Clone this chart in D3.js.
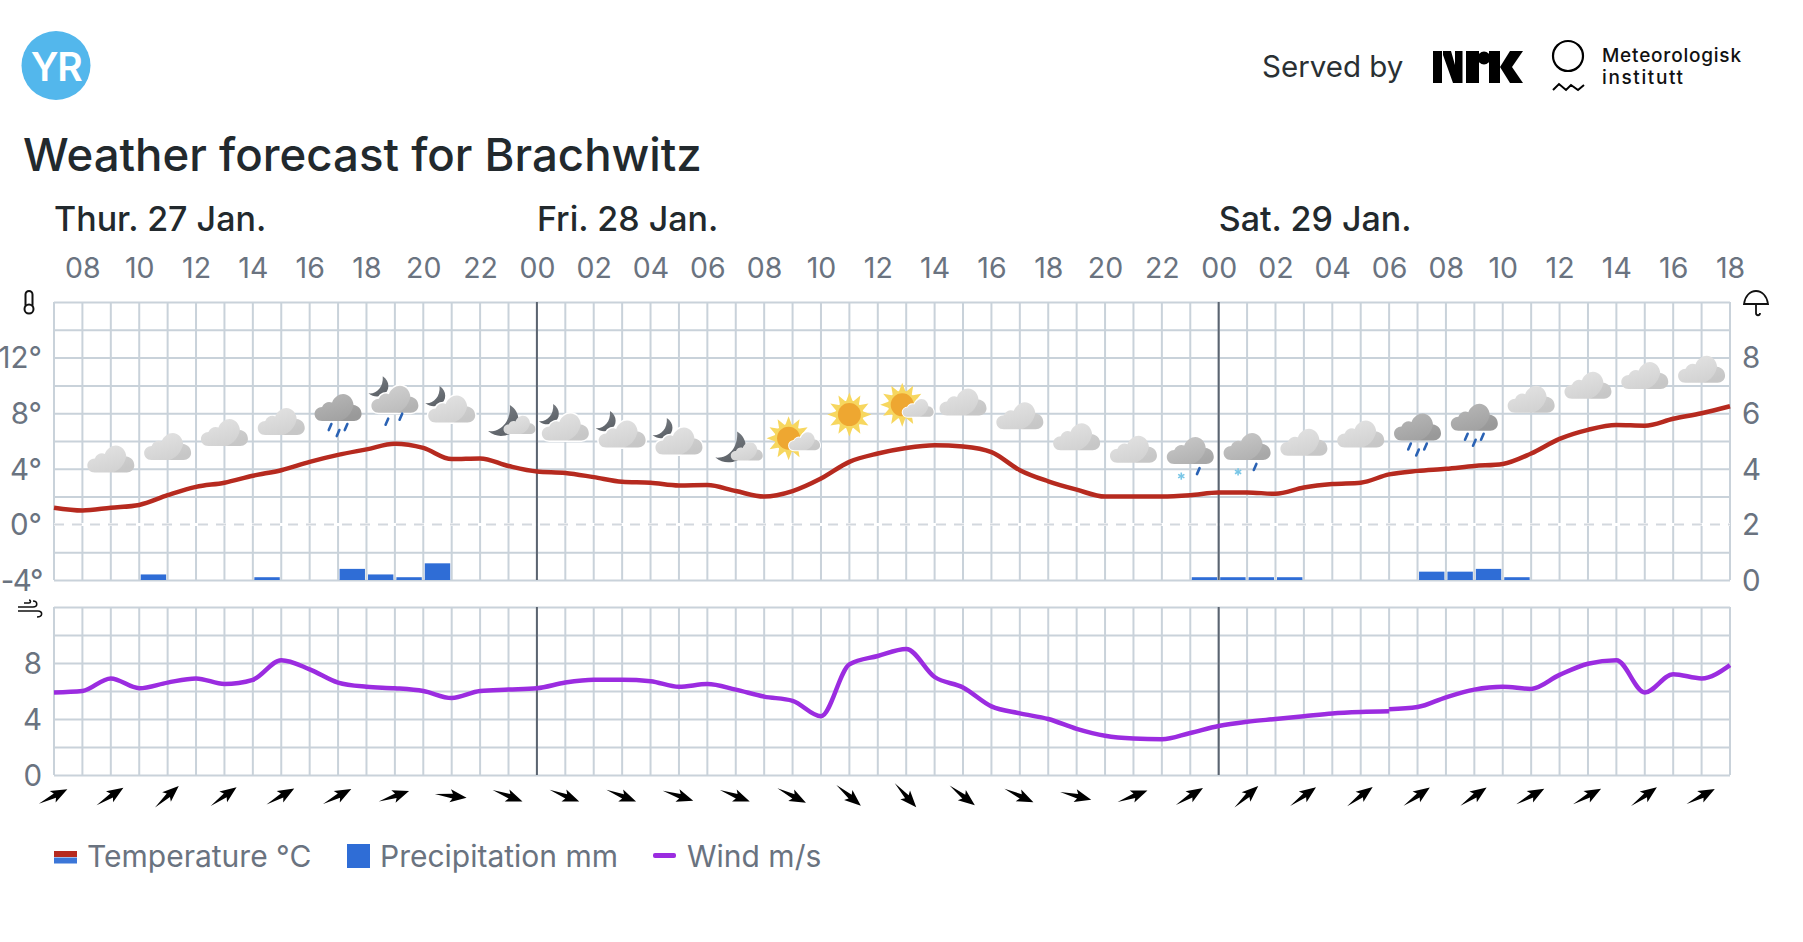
<!DOCTYPE html>
<html>
<head>
<meta charset="utf-8">
<title>Weather forecast for Brachwitz</title>
<script src="https://cdn.jsdelivr.net/npm/d3@7"></script>
<style>
body{margin:0;background:#fff;font-family:Inter,"Noto Sans",sans-serif;}
text{font-family:Inter,"Noto Sans",sans-serif;}
</style>
</head>
<body>
<svg id="chart" width="1803" height="942"></svg>
<script>
// values, one entry per hour from Thu 07:00 to Sat 18:00
var days = ["Thur. 27 Jan.","Fri. 28 Jan.","Sat. 29 Jan."];
var dayStarts = [0,17,41];
var midnights = [17,41];
var hourLabels = ["08","10","12","14","16","18","20","22","00","02","04","06","08","10","12","14","16","18","20","22","00","02","04","06","08","10","12","14","16","18"];
var temperature = [1.2,1.0,1.2,1.4,2.1,2.7,3.0,3.5,3.9,4.5,5.0,5.4,5.8,5.5,4.7,4.75,4.2,3.8,3.7,3.4,3.07,3.0,2.8,2.83,2.4,2.0,2.4,3.3,4.5,5.1,5.5,5.7,5.6,5.2,3.9,3.1,2.5,2.0,2.0,2.0,2.1,2.3,2.3,2.2,2.65,2.9,3.0,3.6,3.85,4.0,4.2,4.35,5.1,6.15,6.8,7.15,7.1,7.6,8.0,8.5];
var precipitation = [0,0,0,0.2,0,0,0,0.1,0,0,0.4,0.2,0.1,0.6,0,0,0,0,0,0,0,0,0,0,0,0,0,0,0,0,0,0,0,0,0,0,0,0,0,0,0.1,0.1,0.1,0.1,0,0,0,0,0.3,0.3,0.4,0.1,0,0,0,0,0,0,0];
var windEarly = [5.9,6.0,6.9,6.2,6.6,6.9,6.5,6.8,8.2,7.55,6.6,6.3,6.2,6.0,5.5,6.0,6.1,6.2,6.6,6.8,6.8,6.7,6.3,6.5,6.1,5.6,5.3,4.2,7.9,8.5,9.0,7.0,6.25,4.9,4.4,4.0,3.3,2.8,2.6,2.55,3.0,3.5,3.8,4.0,4.2,4.4,4.5,4.55];
var windLate = [4.7,4.85,5.55,6.1,6.3,6.15,7.15,7.95,8.2,5.9,7.2,6.9,7.85];
// every second hour starting at index 0, heading in degrees
var windHeading = [63,57,48,54,60,62,71,97,111,112,112,108,111,117,130,138,128,115,104,69,58,48,54,53,55,55,61,61,54,62];
// icons sit every second hour starting at index 2, level is where they sit on the temperature scale
var iconKinds = ["cloud","cloud","cloud","cloud","rain","moonRain","moon","moonSmall","moon","moon","moon","moonSmall","sunSmall","sun","sunSmall","cloud","cloud","cloud","cloud","sleet","sleet","cloud","cloud","rain","rain","cloud","cloud","cloud","cloud"];
var iconLevels = [4.6,5.5,6.5,7.3,8.3,8.9,8.2,7.3,6.9,6.4,5.9,5.4,6.2,7.9,8.6,8.7,7.7,6.2,5.3,5.2,5.5,5.8,6.4,6.9,7.6,8.9,9.9,10.6,11.05];
var legendLabels = ["Temperature °C","Precipitation mm","Wind m/s"];

var gridColor = "#c9d2da", labelColor = "#6a7380", darkText = "#22292d";
var left = 54, right = 1730;

var svg = d3.select("#chart");
var x = d3.scaleLinear().domain([0,59]).range([left,right]);
var yTemp = d3.scaleLinear().domain([-4,16]).range([580,302]);
var yRain = d3.scaleLinear().domain([0,10]).range([580,302]);
var yWind = d3.scaleLinear().domain([0,12]).range([775,607]);

var defs = svg.append("defs");
function cloudGradient(id,top,bottom){
	var g = defs.append("linearGradient").attr("id",id).attr("x1",0).attr("y1",0).attr("x2",0.5).attr("y2",1);
	g.append("stop").attr("offset","0%").attr("stop-color",top);
	g.append("stop").attr("offset","100%").attr("stop-color",bottom);
}
cloudGradient("cloudLight","#e4e4e4","#d2d2d2");
cloudGradient("cloudMid","#d2d2d2","#bdbdbd");
cloudGradient("cloudSleet","#c9c9c9","#b2b2b2");
cloudGradient("cloudDark","#b8b8b8","#a2a2a2");
cloudGradient("moonFill","#7d8288","#5d6268");

// header
svg.append("ellipse").attr("cx",56).attr("cy",65.5).attr("rx",34.5).attr("ry",34.5).attr("fill","#53b7ec");
svg.append("text").attr("x",56).attr("y",81).attr("text-anchor","middle").attr("font-size",39).attr("font-weight",600).attr("fill","#fff").attr("letter-spacing",-1.5).text("YR");
svg.append("text").attr("x",23).attr("y",171).attr("font-size",45.6).attr("font-weight",500).attr("fill",darkText).text("Weather forecast for Brachwitz");
svg.append("text").attr("x",1262).attr("y",77).attr("font-size",29.5).attr("fill","#2a3033").text("Served by");

// NRK logo
var nrk = svg.append("g").attr("transform","translate(1433,51)").attr("fill","#000");
nrk.append("rect").attr("width",9).attr("height",32);
nrk.append("path").attr("d","M10,0H18L22,14V0H29.5V32H20L10,4Z");
nrk.append("path").attr("d","M33,0H46V32H33Z");
nrk.append("circle").attr("cx",51).attr("cy",7).attr("r",6.5);
nrk.append("path").attr("d","M56,0H67V32H56ZM67,16L77,0H90L79,16L90,32H77Z");

// MET logo
svg.append("circle").attr("cx",1568).attr("cy",56).attr("r",15).attr("fill","none").attr("stroke","#000").attr("stroke-width",2.2);
svg.append("path").attr("d","M1553,90L1559,84L1566,90L1571,85L1578,90L1584,85").attr("fill","none").attr("stroke","#000").attr("stroke-width",2);
svg.append("text").attr("x",1602).attr("y",62).attr("font-size",19).attr("font-weight",500).attr("fill","#111").attr("textLength",139).text("Meteorologisk");
svg.append("text").attr("x",1602).attr("y",84).attr("font-size",19).attr("font-weight",500).attr("fill","#111").attr("textLength",81).text("institutt");

// days and hours
svg.selectAll(".day").data(days).enter().append("text")
	.attr("class","day")
	.attr("x",function(d,i){return x(dayStarts[i]);})
	.attr("y",231)
	.attr("font-size",34)
	.attr("font-weight",500)
	.attr("fill",darkText)
	.text(function(d){return d;});

var hourAxis = d3.axisTop(x).tickValues(d3.range(1,60,2)).tickSize(0).tickPadding(0)
	.tickFormat(function(i){return hourLabels[(i-1)/2];});
svg.append("g").attr("transform","translate(0,278)").call(hourAxis)
	.call(function(g){
		g.select(".domain").remove();
		g.selectAll("text").attr("font-size",28.5).attr("fill",labelColor).attr("dy",0);
	});

// grids, drawn through d3 axes with full length ticks
function panelGrid(y,step,label){
	var vals = d3.range(y.domain()[0],y.domain()[1]+0.001,step);
	var axis = d3.axisLeft(y).tickValues(vals).tickSize(-(right-left)).tickPadding(18).tickFormat(label);
	var g = svg.append("g").attr("transform","translate("+left+",0)").call(axis);
	g.select(".domain").remove();
	g.selectAll("line").attr("stroke",gridColor).attr("stroke-width",2);
	g.selectAll("text").attr("font-size",29.5).attr("fill",labelColor).attr("x",-12).attr("dy","0.35em");
	var v = svg.append("g");
	v.selectAll("line").data(d3.range(0,60)).enter().append("line")
		.attr("x1",function(d){return x(d);}).attr("x2",function(d){return x(d);})
		.attr("y1",y.range()[1]).attr("y2",y.range()[0])
		.attr("stroke",gridColor).attr("stroke-width",2);
	return g;
}

var tempGrid = panelGrid(yTemp,2,function(d){return d%4==0 && d<16 ? d+"°" : "";});
tempGrid.selectAll(".tick").filter(function(d){return d==0;}).select("line").remove();
// the minus label is the widest one, tighten it so it stays inside the page
tempGrid.selectAll(".tick").filter(function(d){return d==-4;}).select("text").attr("letter-spacing",-1.4);
// zero line is a dashed one, it lies on top of the verticals
svg.append("line").attr("x1",left).attr("x2",right).attr("y1",yTemp(0)).attr("y2",yTemp(0))
	.attr("stroke","#fff").attr("stroke-width",3);
svg.append("line").attr("x1",left).attr("x2",right).attr("y1",yTemp(0)).attr("y2",yTemp(0))
	.attr("stroke","#d3d8de").attr("stroke-width",2).attr("stroke-dasharray","10,8");

var windGrid = panelGrid(yWind,2,function(d){return d%4==0 && d<12 ? d : "";});

// right axis for precipitation
var rainAxis = d3.axisRight(yRain).tickValues([0,2,4,6,8]).tickSize(0).tickPadding(12).tickFormat(function(d){return d;});
svg.append("g").attr("transform","translate("+right+",0)").call(rainAxis)
	.call(function(g){
		g.select(".domain").remove();
		g.selectAll("text").attr("font-size",29.5).attr("fill",labelColor).attr("dy","0.35em");
	});

// midnight lines
[yTemp,yWind].forEach(function(y){
	svg.append("g").selectAll("line").data(midnights).enter().append("line")
		.attr("x1",function(d){return x(d);}).attr("x2",function(d){return x(d);})
		.attr("y1",y.range()[1]).attr("y2",y.range()[0])
		.attr("stroke","#5b6470").attr("stroke-width",2);
});

// bars
svg.append("g").selectAll("rect").data(precipitation).enter().append("rect")
	.attr("x",function(d,i){return x(i)+1.5;})
	.attr("width",function(d,i){return x(i+1)-x(i)-3;})
	.attr("y",function(d){return yRain(d);})
	.attr("height",function(d){return yRain(0)-yRain(d);})
	.attr("fill","#2f6dd6");

// lines
var tempLine = d3.line().x(function(d,i){return x(i);}).y(function(d){return yTemp(d);}).curve(d3.curveMonotoneX);
svg.append("path").attr("d",tempLine(temperature)).attr("fill","none").attr("stroke","#b62a1f").attr("stroke-width",4.5);

var windLine = d3.line().x(function(d){return x(d[0]);}).y(function(d){return yWind(d[1]);}).curve(d3.curveMonotoneX);
var earlyPts = windEarly.map(function(v,i){return [i,v];});
var latePts = windLate.map(function(v,i){return [i+47,v];});
[earlyPts,latePts].forEach(function(pts){
	svg.append("path").attr("d",windLine(pts)).attr("fill","none").attr("stroke","#9b2ce0").attr("stroke-width",4.5);
});

// weather icons
var cloudPath = "M-16,12C-21,12-23.5,8.5-23.5,5C-23.5,1-20,-2-16,-2C-14,-7-9,-8-6,-6.5C-4,-12,1,-15,5,-15C11,-15,15,-10,15.5,-4C20,-3.5,23.5,0,23.5,5C23.5,9,20,12,16,12Z";
var moonPath = "M3,-11C11,-6,11,5,3,9C-2,11-7,11-12,7C-4,8,4,1,3,-11Z";

function drawCloud(g,tx,ty,s,fill,halo){
	var c = g.append("g").attr("transform","translate("+tx+","+ty+") scale("+s+")");
	if(halo){
		c.append("path").attr("d",cloudPath).attr("fill","#fff").attr("stroke","#fff").attr("stroke-width",3);
	}
	c.append("path").attr("d",cloudPath).attr("fill","url(#"+fill+")");
	c.append("path").attr("d","M15.5,-4C20,-3.5,23.5,0,23.5,5C23.5,9,20,12,16,12H2C10,9,14,3,15.5,-4Z").attr("fill","#000").attr("opacity",0.05);
}
function drawMoon(g,tx,ty,s){
	g.append("path").attr("d",moonPath).attr("transform","translate("+tx+","+ty+") scale("+s+")").attr("fill","url(#moonFill)");
}
function drawSun(g,tx,ty){
	var s = g.append("g").attr("transform","translate("+tx+","+ty+")");
	d3.range(12).forEach(function(k){
		s.append("path").attr("d","M-4.5,-10L0,-22L4.5,-10Z").attr("transform","rotate("+k*30+")").attr("fill","#f7d75f");
	});
	s.append("circle").attr("r",14).attr("fill","#f7d75f");
	s.append("circle").attr("r",11.5).attr("fill","#eea731");
}
function drawDrop(g,tx,ty){
	g.append("line").attr("x1",tx-1.3).attr("y1",ty+3).attr("x2",tx+1.3).attr("y2",ty-3)
		.attr("stroke","#2a62b4").attr("stroke-width",2.6).attr("stroke-linecap","round");
}
function drawSnow(g,tx,ty){
	[0,60,120].forEach(function(a){
		g.append("line").attr("x1",0).attr("y1",-3.6).attr("x2",0).attr("y2",3.6)
			.attr("transform","translate("+tx+","+ty+") rotate("+a+")")
			.attr("stroke","#79c6e6").attr("stroke-width",1.6);
	});
}

var icons = svg.append("g").selectAll("g").data(iconKinds).enter().append("g")
	.attr("transform",function(d,i){return "translate("+x(2*i+2)+","+yTemp(iconLevels[i])+")";});

icons.each(function(kind){
	var g = d3.select(this);
	if(kind=="cloud"){
		drawCloud(g,0,0,1,"cloudLight");
	}else if(kind=="rain"){
		drawCloud(g,0,0,1,"cloudDark");
		drawDrop(g,-8,18);drawDrop(g,0,24);drawDrop(g,8,18);
	}else if(kind=="moonRain"){
		drawMoon(g,-15,-14,0.95);
		drawCloud(g,0,0,1,"cloudMid",true);
		drawDrop(g,-8,21);drawDrop(g,6,16);
	}else if(kind=="moon"){
		drawMoon(g,-15,-14,0.95);
		drawCloud(g,0,0,1,"cloudLight",true);
	}else if(kind=="moonSmall"){
		drawMoon(g,-3,-2,1.45);
		drawCloud(g,11,3,0.68,"cloudLight");
	}else if(kind=="sun"){
		drawSun(g,0,0);
	}else if(kind=="sunSmall"){
		drawSun(g,-4,0);
		drawCloud(g,12,4,0.66,"cloudLight",true);
	}else if(kind=="sleet"){
		drawCloud(g,0,0,1,"cloudSleet");
		drawSnow(g,-9,24);drawDrop(g,8,19);
	}
});

// wind arrows
var arrowPath = "M0,-15L6.5,1.5L2.4,-1L0,17L-2.4,-1L-6.5,1.5Z";
svg.append("g").selectAll("path").data(windHeading).enter().append("path")
	.attr("d",arrowPath)
	.attr("transform",function(d,i){return "translate("+x(2*i)+",796) rotate("+d+")";})
	.attr("fill","#000");

// small panel symbols
svg.append("rect").attr("x",25.5).attr("y",291).attr("width",7).attr("height",17).attr("rx",3.5).attr("fill","none").attr("stroke","#111").attr("stroke-width",2);
svg.append("circle").attr("cx",29).attr("cy",309).attr("r",4.5).attr("fill","#fff").attr("stroke","#111").attr("stroke-width",2);
svg.append("path").attr("d","M1744,304C1745,296,1750,291,1756,291C1762,291,1767,296,1768,304ZM1756,304V313C1756,316,1760,316,1760,313").attr("fill","none").attr("stroke","#111").attr("stroke-width",1.8);
svg.append("path").attr("d","M18,607H33C38,607,38,601,33,601M18,611H38C43,611,43,617,37,617M24,603H29C31,603,31,600,29,600").attr("fill","none").attr("stroke","#111").attr("stroke-width",1.6);

// legend
svg.append("rect").attr("x",54).attr("y",851).attr("width",23).attr("height",6).attr("fill","#b62a1f");
svg.append("rect").attr("x",54).attr("y",857.5).attr("width",23).attr("height",6).attr("fill","#3b76d8");
svg.append("rect").attr("x",347).attr("y",844).attr("width",23).attr("height",24).attr("fill","#2f6dd6");
svg.append("rect").attr("x",653).attr("y",853).attr("width",23).attr("height",5).attr("rx",2).attr("fill","#9b2ce0");
var legendX = [87,380,687];
svg.append("g").selectAll("text").data(legendLabels).enter().append("text")
	.attr("x",function(d,i){return legendX[i];})
	.attr("y",867)
	.attr("font-size",30)
	.attr("fill",labelColor)
	.text(function(d){return d;});
</script>
</body>
</html>
